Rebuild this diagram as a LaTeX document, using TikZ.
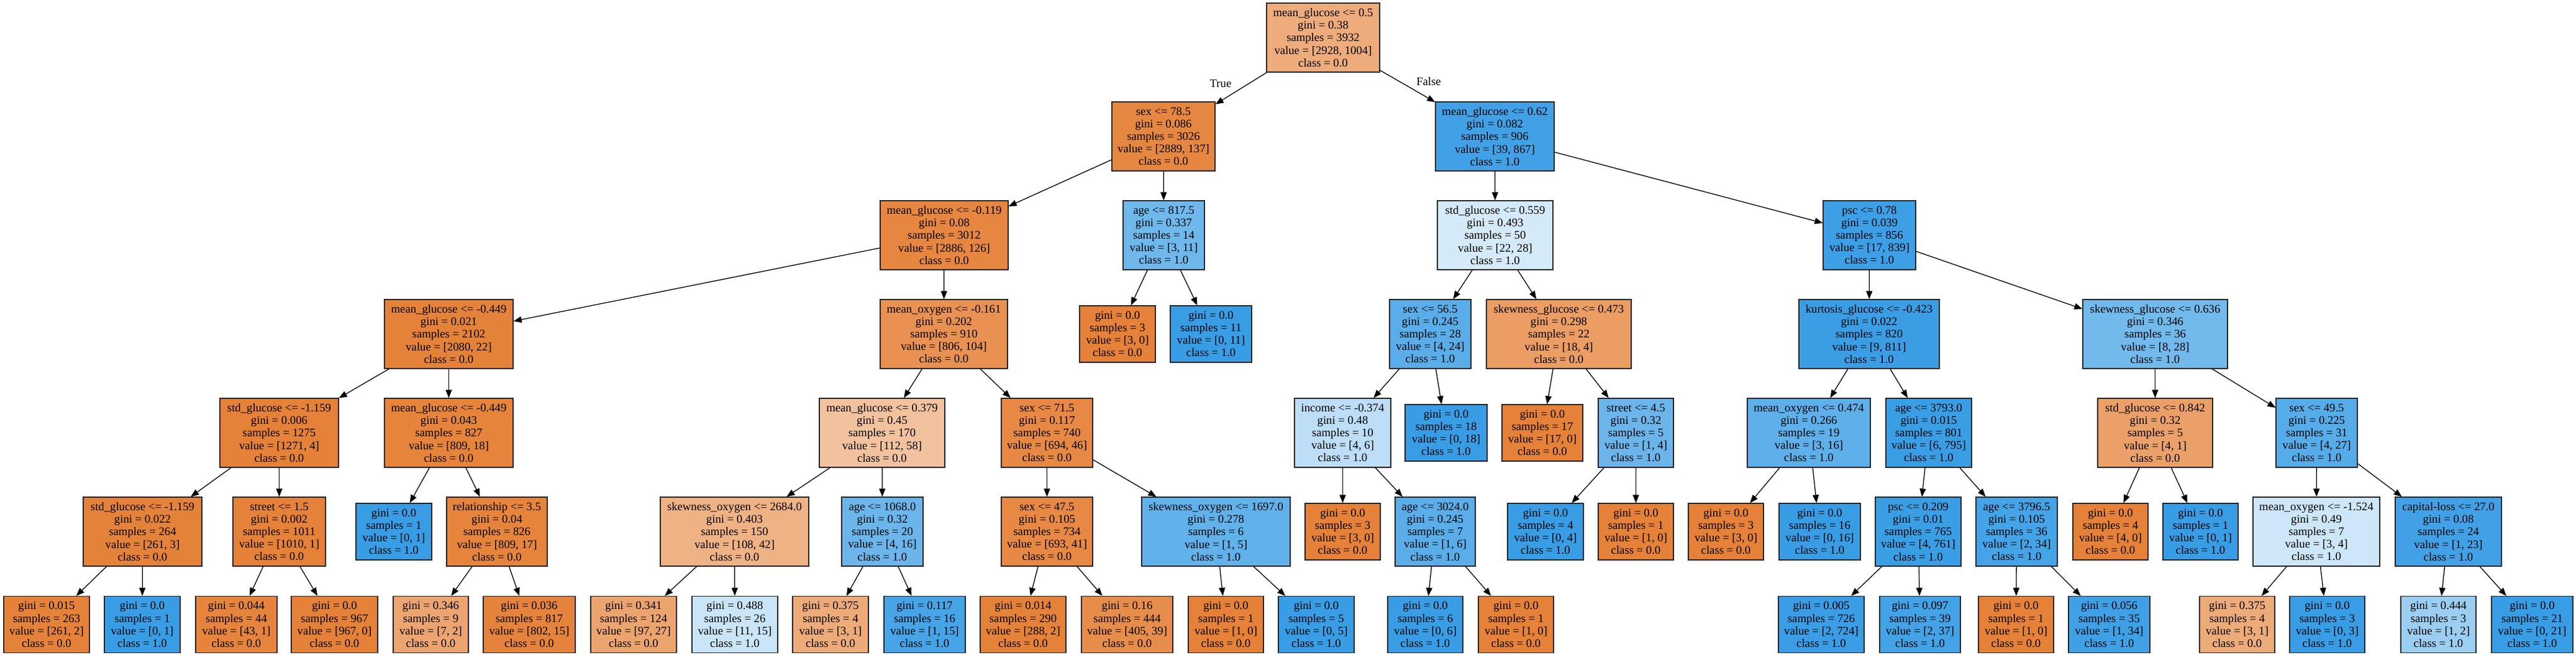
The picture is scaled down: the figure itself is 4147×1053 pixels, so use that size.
\documentclass[tikz,border=0pt]{standalone}
\usepackage{fontspec}
\setmainfont{Liberation Serif}
\usetikzlibrary{arrows.meta}
\definecolor{orng}{RGB}{229,129,56}
\definecolor{blu}{RGB}{57,157,229}
\begin{document}
\begin{tikzpicture}[x=1pt,y=-1pt,
 box/.style={draw=black!85,line width=1.3pt,rectangle,align=center,inner sep=0pt,
   font=\fontsize{18.7}{20.2}\selectfont},
 inn/.style={box,minimum height=111pt},
 lf/.style={box,minimum height=91pt},
 cl/.code 2 args={%
   \pgfmathsetmacro\clpct{100*(1-min(#1,#2)/max(#1,#2))}%
   \pgfmathparse{#1>#2?1:0}%
   \ifdim\pgfmathresult pt>0.5pt\def\clcol{orng}\else\def\clcol{blu}\fi
   \edef\cltmp{\noexpand\pgfkeysalso{fill=\clcol!\clpct!white}}\cltmp},
 conn/.style={line width=1.3pt,-{Triangle[length=13pt,width=10pt]}},
 lbl/.style={font=\fontsize{18.7}{20.2}\selectfont}]
\fill[white] (0,0) rectangle (4147,1053);
\useasboundingbox (0,0) rectangle (4147,1053);
% level 0
\node[inn,cl={2928}{1004},minimum width=182pt] (r) at (2130,60.5) {mean\_glucose <= 0.5\\gini = 0.38\\samples = 3932\\value = [2928, 1004]\\class = 0.0};
% level 1
\node[inn,cl={2889}{137},minimum width=166pt] (a1) at (1873,219.5) {sex <= 78.5\\gini = 0.086\\samples = 3026\\value = [2889, 137]\\class = 0.0};
\node[inn,cl={39}{867},minimum width=191pt] (b1) at (2406.5,219.5) {mean\_glucose <= 0.62\\gini = 0.082\\samples = 906\\value = [39, 867]\\class = 1.0};
% level 2
\node[inn,cl={2886}{126},minimum width=206pt] (a2) at (1520,378.5) {mean\_glucose <= -0.119\\gini = 0.08\\samples = 3012\\value = [2886, 126]\\class = 0.0};
\node[inn,cl={3}{11},minimum width=131pt] (a3) at (1873.5,378.5) {age <= 817.5\\gini = 0.337\\samples = 14\\value = [3, 11]\\class = 1.0};
\node[inn,cl={22}{28},minimum width=186pt] (b2) at (2407,378.5) {std\_glucose <= 0.559\\gini = 0.493\\samples = 50\\value = [22, 28]\\class = 1.0};
\node[inn,cl={17}{839},minimum width=149pt] (b3) at (3009.5,378.5) {psc <= 0.78\\gini = 0.039\\samples = 856\\value = [17, 839]\\class = 1.0};
% level 3
\node[inn,cl={2080}{22},minimum width=207pt] (n3a) at (722.5,537.5) {mean\_glucose <= -0.449\\gini = 0.021\\samples = 2102\\value = [2080, 22]\\class = 0.0};
\node[inn,cl={806}{104},minimum width=205pt] (n3b) at (1519.5,537.5) {mean\_oxygen <= -0.161\\gini = 0.202\\samples = 910\\value = [806, 104]\\class = 0.0};
\node[lf,cl={3}{0},minimum width=122pt] (n3c) at (1799,537.5) {gini = 0.0\\samples = 3\\value = [3, 0]\\class = 0.0};
\node[lf,cl={0}{11},minimum width=131pt] (n3d) at (1949.5,537.5) {gini = 0.0\\samples = 11\\value = [0, 11]\\class = 1.0};
\node[inn,cl={4}{24},minimum width=131pt] (n3e) at (2302.5,537.5) {sex <= 56.5\\gini = 0.245\\samples = 28\\value = [4, 24]\\class = 1.0};
\node[inn,cl={18}{4},minimum width=233pt] (n3f) at (2509.5,537.5) {skewness\_glucose <= 0.473\\gini = 0.298\\samples = 22\\value = [18, 4]\\class = 0.0};
\node[inn,cl={9}{811},minimum width=226pt] (n3g) at (3009,537.5) {kurtosis\_glucose <= -0.423\\gini = 0.022\\samples = 820\\value = [9, 811]\\class = 1.0};
\node[inn,cl={8}{28},minimum width=233pt] (n3h) at (3469.5,537.5) {skewness\_glucose <= 0.636\\gini = 0.346\\samples = 36\\value = [8, 28]\\class = 1.0};
% level 4
\node[inn,cl={1271}{4},minimum width=191pt] (n4a) at (449.5,696.5) {std\_glucose <= -1.159\\gini = 0.006\\samples = 1275\\value = [1271, 4]\\class = 0.0};
\node[inn,cl={809}{18},minimum width=207pt] (n4b) at (722.5,696.5) {mean\_glucose <= -0.449\\gini = 0.043\\samples = 827\\value = [809, 18]\\class = 0.0};
\node[inn,cl={112}{58},minimum width=202pt] (n4c) at (1420,696.5) {mean\_glucose <= 0.379\\gini = 0.45\\samples = 170\\value = [112, 58]\\class = 0.0};
\node[inn,cl={694}{46},minimum width=147pt] (n4d) at (1685.5,696.5) {sex <= 71.5\\gini = 0.117\\samples = 740\\value = [694, 46]\\class = 0.0};
\node[inn,cl={4}{6},minimum width=155pt] (n4e) at (2161.5,696.5) {income <= -0.374\\gini = 0.48\\samples = 10\\value = [4, 6]\\class = 1.0};
\node[lf,cl={0}{18},minimum width=132pt] (n4f) at (2328,696.5) {gini = 0.0\\samples = 18\\value = [0, 18]\\class = 1.0};
\node[lf,cl={17}{0},minimum width=130pt] (n4g) at (2483,696.5) {gini = 0.0\\samples = 17\\value = [17, 0]\\class = 0.0};
\node[inn,cl={1}{4},minimum width=121pt] (n4h) at (2633.5,696.5) {street <= 4.5\\gini = 0.32\\samples = 5\\value = [1, 4]\\class = 1.0};
\node[inn,cl={3}{16},minimum width=198pt] (n4i) at (2912,696.5) {mean\_oxygen <= 0.474\\gini = 0.266\\samples = 19\\value = [3, 16]\\class = 1.0};
\node[inn,cl={6}{795},minimum width=138pt] (n4j) at (3105,696.5) {age <= 3793.0\\gini = 0.015\\samples = 801\\value = [6, 795]\\class = 1.0};
\node[inn,cl={4}{1},minimum width=185pt] (n4k) at (3469.5,696.5) {std\_glucose <= 0.842\\gini = 0.32\\samples = 5\\value = [4, 1]\\class = 0.0};
\node[inn,cl={4}{27},minimum width=131pt] (n4l) at (3729.5,696.5) {sex <= 49.5\\gini = 0.225\\samples = 31\\value = [4, 27]\\class = 1.0};
% level 5
\node[inn,cl={261}{3},minimum width=191pt] (n5a) at (229.5,855.5) {std\_glucose <= -1.159\\gini = 0.022\\samples = 264\\value = [261, 3]\\class = 0.0};
\node[inn,cl={1010}{1},minimum width=149pt] (n5b) at (449.5,855.5) {street <= 1.5\\gini = 0.002\\samples = 1011\\value = [1010, 1]\\class = 0.0};
\node[lf,cl={0}{1},minimum width=122pt] (n5c) at (634,855.5) {gini = 0.0\\samples = 1\\value = [0, 1]\\class = 1.0};
\node[inn,cl={809}{17},minimum width=162pt] (n5d) at (800,855.5) {relationship <= 3.5\\gini = 0.04\\samples = 826\\value = [809, 17]\\class = 0.0};
\node[inn,cl={108}{42},minimum width=239pt] (n5e) at (1182.5,855.5) {skewness\_oxygen <= 2684.0\\gini = 0.403\\samples = 150\\value = [108, 42]\\class = 0.0};
\node[inn,cl={4}{16},minimum width=131pt] (n5f) at (1420.5,855.5) {age <= 1068.0\\gini = 0.32\\samples = 20\\value = [4, 16]\\class = 1.0};
\node[inn,cl={693}{41},minimum width=147pt] (n5g) at (1685.5,855.5) {sex <= 47.5\\gini = 0.105\\samples = 734\\value = [693, 41]\\class = 0.0};
\node[inn,cl={1}{5},minimum width=239pt] (n5h) at (1957.5,855.5) {skewness\_oxygen <= 1697.0\\gini = 0.278\\samples = 6\\value = [1, 5]\\class = 1.0};
\node[lf,cl={3}{0},minimum width=121pt] (n5i) at (2161.5,855.5) {gini = 0.0\\samples = 3\\value = [3, 0]\\class = 0.0};
\node[inn,cl={1}{6},minimum width=129pt] (n5j) at (2310.5,855.5) {age <= 3024.0\\gini = 0.245\\samples = 7\\value = [1, 6]\\class = 1.0};
\node[lf,cl={0}{4},minimum width=122pt] (n5k) at (2488,855.5) {gini = 0.0\\samples = 4\\value = [0, 4]\\class = 1.0};
\node[lf,cl={1}{0},minimum width=121pt] (n5l) at (2633.5,855.5) {gini = 0.0\\samples = 1\\value = [1, 0]\\class = 0.0};
\node[lf,cl={3}{0},minimum width=121pt] (n5m) at (2778.5,855.5) {gini = 0.0\\samples = 3\\value = [3, 0]\\class = 0.0};
\node[lf,cl={0}{16},minimum width=131pt] (n5n) at (2929.5,855.5) {gini = 0.0\\samples = 16\\value = [0, 16]\\class = 1.0};
\node[inn,cl={4}{761},minimum width=138pt] (n5o) at (3088,855.5) {psc <= 0.209\\gini = 0.01\\samples = 765\\value = [4, 761]\\class = 1.0};
\node[inn,cl={2}{34},minimum width=131pt] (n5p) at (3246.5,855.5) {age <= 3796.5\\gini = 0.105\\samples = 36\\value = [2, 34]\\class = 1.0};
\node[lf,cl={4}{0},minimum width=121pt] (n5q) at (3397.5,855.5) {gini = 0.0\\samples = 4\\value = [4, 0]\\class = 0.0};
\node[lf,cl={0}{1},minimum width=121pt] (n5r) at (3542.5,855.5) {gini = 0.0\\samples = 1\\value = [0, 1]\\class = 1.0};
\node[inn,cl={3}{4},minimum width=204pt] (n5s) at (3729,855.5) {mean\_oxygen <= -1.524\\gini = 0.49\\samples = 7\\value = [3, 4]\\class = 1.0};
\node[inn,cl={1}{23},minimum width=171pt] (n5t) at (3941.5,855.5) {capital-loss <= 27.0\\gini = 0.08\\samples = 24\\value = [1, 23]\\class = 1.0};
% level 6
\node[lf,cl={261}{2},minimum width=138pt] (n6a) at (75,1005) {gini = 0.015\\samples = 263\\value = [261, 2]\\class = 0.0};
\node[lf,cl={0}{1},minimum width=122pt] (n6b) at (229,1005) {gini = 0.0\\samples = 1\\value = [0, 1]\\class = 1.0};
\node[lf,cl={43}{1},minimum width=131pt] (n6c) at (380.5,1005) {gini = 0.044\\samples = 44\\value = [43, 1]\\class = 0.0};
\node[lf,cl={967}{0},minimum width=139pt] (n6d) at (538.5,1005) {gini = 0.0\\samples = 967\\value = [967, 0]\\class = 0.0};
\node[lf,cl={7}{2},minimum width=121pt] (n6e) at (693.5,1005) {gini = 0.346\\samples = 9\\value = [7, 2]\\class = 0.0};
\node[lf,cl={802}{15},minimum width=148pt] (n6f) at (852,1005) {gini = 0.036\\samples = 817\\value = [802, 15]\\class = 0.0};
\node[lf,cl={97}{27},minimum width=138pt] (n6g) at (1020,1005) {gini = 0.341\\samples = 124\\value = [97, 27]\\class = 0.0};
\node[lf,cl={11}{15},minimum width=138pt] (n6h) at (1183,1005) {gini = 0.488\\samples = 26\\value = [11, 15]\\class = 1.0};
\node[lf,cl={3}{1},minimum width=122pt] (n6i) at (1337,1005) {gini = 0.375\\samples = 4\\value = [3, 1]\\class = 0.0};
\node[lf,cl={1}{15},minimum width=131pt] (n6j) at (1488.5,1005) {gini = 0.117\\samples = 16\\value = [1, 15]\\class = 1.0};
\node[lf,cl={288}{2},minimum width=138pt] (n6k) at (1647,1005) {gini = 0.014\\samples = 290\\value = [288, 2]\\class = 0.0};
\node[lf,cl={405}{39},minimum width=147pt] (n6l) at (1814.5,1005) {gini = 0.16\\samples = 444\\value = [405, 39]\\class = 0.0};
\node[lf,cl={1}{0},minimum width=121pt] (n6m) at (1973.5,1005) {gini = 0.0\\samples = 1\\value = [1, 0]\\class = 0.0};
\node[lf,cl={0}{5},minimum width=122pt] (n6n) at (2119,1005) {gini = 0.0\\samples = 5\\value = [0, 5]\\class = 1.0};
\node[lf,cl={0}{6},minimum width=121pt] (n6o) at (2294.5,1005) {gini = 0.0\\samples = 6\\value = [0, 6]\\class = 1.0};
\node[lf,cl={1}{0},minimum width=121pt] (n6p) at (2440.5,1005) {gini = 0.0\\samples = 1\\value = [1, 0]\\class = 0.0};
\node[lf,cl={2}{724},minimum width=138pt] (n6q) at (2932,1005) {gini = 0.005\\samples = 726\\value = [2, 724]\\class = 1.0};
\node[lf,cl={2}{37},minimum width=130pt] (n6r) at (3091,1005) {gini = 0.097\\samples = 39\\value = [2, 37]\\class = 1.0};
\node[lf,cl={1}{0},minimum width=121pt] (n6s) at (3245.5,1005) {gini = 0.0\\samples = 1\\value = [1, 0]\\class = 0.0};
\node[lf,cl={1}{34},minimum width=131pt] (n6t) at (3395.5,1005) {gini = 0.056\\samples = 35\\value = [1, 34]\\class = 1.0};
\node[lf,cl={3}{1},minimum width=121pt] (n6u) at (3601.5,1005) {gini = 0.375\\samples = 4\\value = [3, 1]\\class = 0.0};
\node[lf,cl={0}{3},minimum width=121pt] (n6v) at (3746.5,1005) {gini = 0.0\\samples = 3\\value = [0, 3]\\class = 1.0};
\node[lf,cl={1}{2},minimum width=121pt] (n6w) at (3925.5,1005) {gini = 0.444\\samples = 3\\value = [1, 2]\\class = 1.0};
\node[lf,cl={0}{21},minimum width=131pt] (n6x) at (4076.5,1005) {gini = 0.0\\samples = 21\\value = [0, 21]\\class = 1.0};
% edge labels
\node[lbl] (tl) at (1965,134) {True};
\node[lbl] (fl) at (2300,131) {False};
% connectors
\foreach \p/\c in {r/a1,r/b1,a1/a2,a1/a3,b1/b2,b1/b3,a2/n3a,a2/n3b,a3/n3c,a3/n3d,
  b2/n3e,b2/n3f,b3/n3g,b3/n3h,n3a/n4a,n3a/n4b,n3b/n4c,n3b/n4d,n3e/n4e,n3e/n4f,
  n3f/n4g,n3f/n4h,n3g/n4i,n3g/n4j,n3h/n4k,n3h/n4l,n4a/n5a,n4a/n5b,n4b/n5c,n4b/n5d,
  n4c/n5e,n4c/n5f,n4d/n5g,n4d/n5h,n4e/n5i,n4e/n5j,n4h/n5k,n4h/n5l,n4i/n5m,n4i/n5n,
  n4j/n5o,n4j/n5p,n4k/n5q,n4k/n5r,n4l/n5s,n4l/n5t,n5a/n6a,n5a/n6b,n5b/n6c,n5b/n6d,
  n5d/n6e,n5d/n6f,n5e/n6g,n5e/n6h,n5f/n6i,n5f/n6j,n5g/n6k,n5g/n6l,n5h/n6m,n5h/n6n,
  n5j/n6o,n5j/n6p,n5o/n6q,n5o/n6r,n5p/n6s,n5p/n6t,n5s/n6u,n5s/n6v,n5t/n6w,n5t/n6x}
  \draw[conn] (\p) -- (\c);
\end{tikzpicture}
\end{document}
